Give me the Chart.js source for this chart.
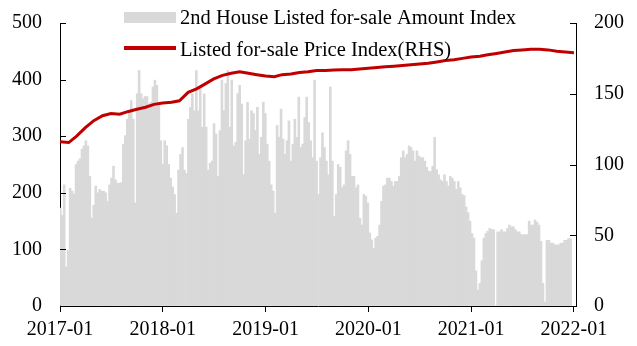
<!DOCTYPE html>
<html>
<head>
<meta charset="utf-8">
<script src="https://cdn.jsdelivr.net/npm/chart.js@4.4.1/dist/chart.umd.min.js"></script>
<style>
  html, body { margin: 0; padding: 0; background: #fff; }
  #chart { display: block; }
</style>
</head>
<body>
<canvas id="chart" width="637" height="346"></canvas>
<script>
// weekly series, first week starting 2017-01-02
const firstWeek = Date.UTC(2017, 0, 2);
const amountIndex = [
  173,160,214,69,98,208,203,198,250,256,260,277,283,292,283,229,155,178,212,200,206,203,203,200,185,214,
  226,247,223,217,217,218,286,301,330,345,363,330,182,375,416,375,366,370,
  370,357,360,387,399,390,357,292,250,292,283,250,226,210,197,164,240,268,280,240,234,330,
  351,375,345,416,345,387,316,375,316,240,252,256,322,304,229,310,399,345,393,416,316,399,
  283,289,375,390,357,232,292,360,295,345,340,310,351,268,298,360,340,286,256,214,203,164,
  319,298,348,295,268,292,327,256,286,330,298,369,280,286,333,369,324,292,262,399,256,
  197,262,306,280,256,232,387,256,158,197,250,245,209,214,274,292,268,229,229,209,214,155,
  143,197,194,182,129,117,102,120,123,143,185,212,214,226,226,220,212,220,220,229,262,274,
  262,268,283,280,274,256,274,265,262,262,256,245,238,238,247,298,241,232,223,220,232,220,
  212,229,226,220,206,220,209,197,195,175,165,150,128,120,62,28,40,80,120,128,132,137,
  135,135,0,131,131,135,131,131,137,143,140,140,135,131,131,126,126,126,126,150,143,
  143,152,148,143,114,40,7,116,116,111,111,108,108,108,111,111,116,116,119,119
];

// monthly series, Jan 2017 .. Jan 2022
const priceIndex = [
  116,115.5,120,126,131,134.5,136,135.5,137.5,139,140.5,142.5,
  143.5,144,145,151,153.5,157,160.5,163,164.5,165.5,164.5,163.5,
  162.5,162,163.5,164,165,165.5,166.5,166.5,166.7,167,167,167.5,
  168,168.5,169,169.5,170,170.5,171,171.5,172.5,173.5,174,175,
  176,176.5,177.5,178.5,179.5,180.5,181,181.5,181.5,181,180,179.5,
  179
];

const yearTicks = [2017, 2018, 2019, 2020, 2021, 2022];
const amountLabel = '2nd House Listed for-sale Amount Index';
const priceLabel = 'Listed for-sale Price Index(RHS)';

const FONT = 'Liberation Serif, Times New Roman, serif';

function yearFraction(ms) {
    const d = new Date(ms);
    const y = d.getUTCFullYear();
    const start = Date.UTC(y, 0, 1);
    const end = Date.UTC(y + 1, 0, 1);
    return y + (ms - start) / (end - start);
}

const amountData = amountIndex.map(function(v, i) {
    return { x: yearFraction(firstWeek + i * 7 * 864e5), y: v };
});
const priceData = priceIndex.map(function(v, m) {
    return { x: yearFraction(Date.UTC(2017, m, 1)), y: v };
});

// y-axis tick marks point into the plot
const innerTicks = {
    id: 'innerTicks',
    afterDraw: function(chart) {
        const ctx = chart.ctx;
        ctx.save();
        ctx.strokeStyle = '#000';
        ctx.lineWidth = 1;
        ['y', 'y1'].forEach(function(id) {
            const scale = chart.scales[id];
            scale.ticks.forEach(function(t) {
                const py = Math.round(scale.getPixelForValue(t.value)) + 0.5;
                ctx.beginPath();
                if (id === 'y') {
                    ctx.moveTo(scale.right, py);
                    ctx.lineTo(scale.right + 6, py);
                } else {
                    ctx.moveTo(scale.left, py);
                    ctx.lineTo(scale.left - 6, py);
                }
                ctx.stroke();
            });
        });
        ctx.restore();
    }
};

// legend sits inside the plot, over the top
const overlayLegend = {
    id: 'overlayLegend',
    afterDraw: function(chart) {
        const ctx = chart.ctx;
        ctx.save();
        ctx.fillStyle = '#d9d9d9';
        ctx.fillRect(124, 12, 52, 11);
        ctx.strokeStyle = '#c00000';
        ctx.lineWidth = 4;
        ctx.beginPath();
        ctx.moveTo(124, 48);
        ctx.lineTo(176, 48);
        ctx.stroke();
        ctx.fillStyle = '#000';
        ctx.font = '20.5px ' + FONT;
        ctx.textBaseline = 'alphabetic';
        ctx.fillText(amountLabel, 180, 24);
        ctx.fillText(priceLabel, 180, 56);
        ctx.restore();
    }
};

const tickFont = { family: FONT, size: 20 };

new Chart(document.getElementById('chart').getContext('2d'), {
    type: 'bar',
    data: {
        datasets: [
            {
                type: 'line',
                label: priceLabel,
                data: priceData,
                yAxisID: 'y1',
                borderColor: '#c00000',
                borderWidth: 3,
                pointRadius: 0,
                tension: 0,
                order: 0
            },
            {
                type: 'bar',
                label: amountLabel,
                data: amountData,
                yAxisID: 'y',
                backgroundColor: '#d9d9d9',
                borderWidth: 0,
                barPercentage: 1,
                categoryPercentage: 1,
                order: 1
            }
        ]
    },
    options: {
        responsive: false,
        animation: false,
        layout: { padding: { top: 23, left: 0, right: 0, bottom: 0 } },
        plugins: {
            legend: { display: false },
            tooltip: { enabled: false }
        },
        scales: {
            x: {
                type: 'linear',
                min: 2017,
                max: 2022.02,
                offset: false,
                afterBuildTicks: function(scale) {
                    scale.ticks = yearTicks.map(function(v) { return { value: v }; });
                },
                afterFit: function(scale) { scale.height = 40; },
                ticks: {
                    callback: function(v) { return v + '-01'; },
                    font: tickFont,
                    color: '#000',
                    padding: 6,
                    maxRotation: 0,
                    autoSkip: false
                },
                grid: { drawOnChartArea: false, offset: false, tickLength: 6, color: '#000' },
                border: { color: '#000' }
            },
            y: {
                position: 'left',
                min: 0,
                max: 500,
                afterFit: function(scale) { scale.width = 60; },
                ticks: { stepSize: 100, font: tickFont, color: '#000', padding: 3 },
                // invisible outer ticks only push the labels away from the axis
                grid: { drawOnChartArea: false, tickLength: 15, tickColor: 'rgba(0,0,0,0)' },
                border: { color: '#000' }
            },
            y1: {
                position: 'right',
                min: 0,
                max: 200,
                afterFit: function(scale) { scale.width = 61; },
                ticks: { stepSize: 50, font: tickFont, color: '#000', padding: 3 },
                grid: { drawOnChartArea: false, tickLength: 15, tickColor: 'rgba(0,0,0,0)' },
                border: { color: '#000' }
            }
        }
    },
    plugins: [innerTicks, overlayLegend]
});
</script>
</body>
</html>
